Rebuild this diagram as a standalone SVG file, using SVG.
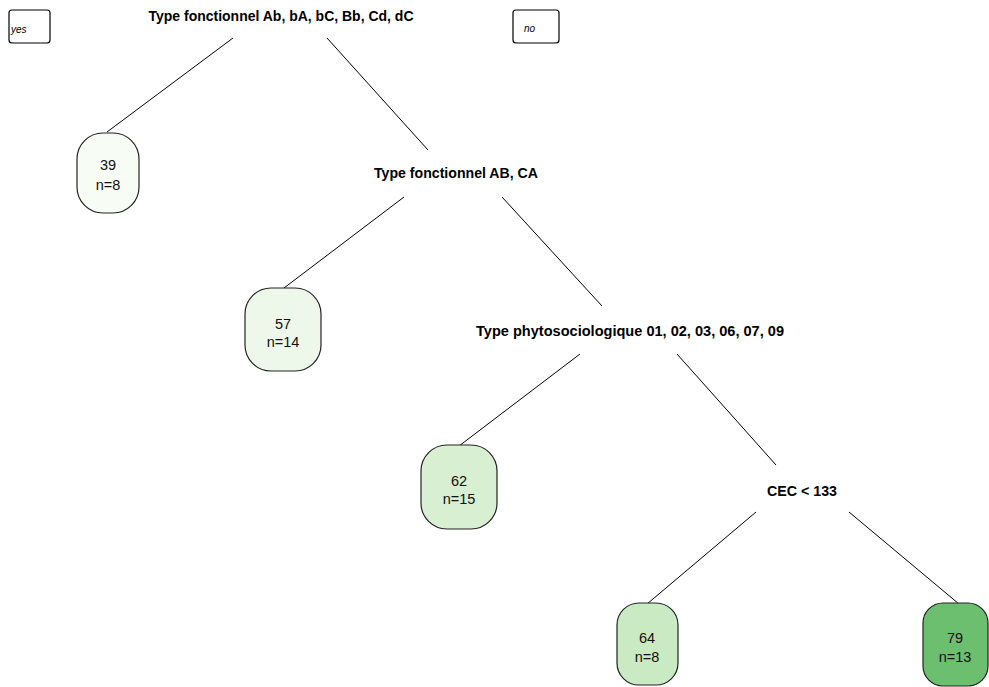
<svg xmlns="http://www.w3.org/2000/svg" width="989" height="687" viewBox="0 0 989 687">
<style>
.split{font-family:"Liberation Sans",Arial,sans-serif;font-weight:bold;font-size:14px;fill:#000;text-anchor:middle}
.leaf rect{stroke:#222;stroke-width:1.2}
.leaf text{font-family:"Liberation Sans",Arial,sans-serif;font-size:14.5px;fill:#111;text-anchor:middle}
.lab rect{fill:#fff;stroke:#000;stroke-width:1.2}
.lab text{font-family:"Liberation Sans",Arial,sans-serif;font-style:italic;font-size:10px;fill:#000}
#connectors line{stroke:#000;stroke-width:1}
</style>
<rect width="989" height="687" fill="#fff"/>
<g id="connectors">
<line x1="233" y1="38" x2="107" y2="132"/>
<line x1="327" y1="38" x2="428" y2="150"/>
<line x1="404" y1="197" x2="284" y2="288"/>
<line x1="502" y1="197" x2="602" y2="306"/>
<line x1="580" y1="354" x2="459" y2="446"/>
<line x1="677" y1="354" x2="776" y2="465"/>
<line x1="756" y1="512" x2="647" y2="604"/>
<line x1="849" y1="512" x2="959" y2="604"/>
</g>
<g id="label-yes" class="lab"><rect x="9" y="10" width="41" height="33" rx="3"/><text x="11" y="33">yes</text></g>
<g id="label-no" class="lab"><rect x="513" y="10" width="46" height="33" rx="3"/><text x="524" y="32">no</text></g>
<g id="split1"><text class="split" x="281" y="21" textLength="265" lengthAdjust="spacingAndGlyphs">Type fonctionnel Ab, bA, bC, Bb, Cd, dC</text></g>
<g id="split2"><text class="split" x="456" y="178" textLength="164" lengthAdjust="spacingAndGlyphs">Type fonctionnel AB, CA</text></g>
<g id="split3"><text class="split" x="630" y="336" textLength="308" lengthAdjust="spacingAndGlyphs">Type phytosociologique 01, 02, 03, 06, 07, 09</text></g>
<g id="split4"><text class="split" x="802" y="496" textLength="70" lengthAdjust="spacingAndGlyphs">CEC &lt; 133</text></g>
<g id="leaf39" class="leaf"><rect x="77" y="133" width="62" height="80" rx="26" fill="#f7fcf5"/><text x="108" y="170">39</text><text x="108" y="190">n=8</text></g>
<g id="leaf57" class="leaf"><rect x="245" y="288" width="76" height="83" rx="26" fill="#eef8ea"/><text x="283" y="329">57</text><text x="283" y="347">n=14</text></g>
<g id="leaf62" class="leaf"><rect x="421" y="445" width="76" height="84" rx="26" fill="#d8efd2"/><text x="459" y="486">62</text><text x="459" y="504">n=15</text></g>
<g id="leaf64" class="leaf"><rect x="617" y="603" width="61" height="82" rx="22" fill="#c9eac2"/><text x="647" y="643">64</text><text x="647" y="662">n=8</text></g>
<g id="leaf79" class="leaf"><rect x="923" y="603" width="65" height="83" rx="20" fill="#6dbf70"/><text x="955" y="643">79</text><text x="955" y="662">n=13</text></g>
</svg>
